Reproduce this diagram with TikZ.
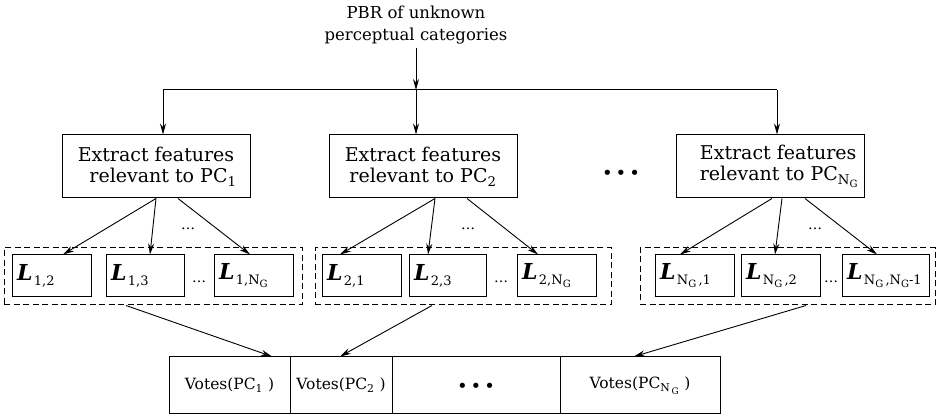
\documentclass[tikz,border=0pt]{standalone}
\usepackage{fontspec}
\setmainfont{DejaVu Serif}
\usetikzlibrary{arrows.meta,calc}
\newcommand{\Lmain}{{\fontsize{22}{22}\selectfont\bfseries\itshape L}\kern1.5pt}
\newcommand{\Ssub}[1]{\raisebox{-5pt}{\fontsize{13}{13}\selectfont #1}}
\newcommand{\NGsub}{N\raisebox{-3pt}{\fontsize{10}{10}\selectfont G}}
\begin{document}
\begin{tikzpicture}[x=1pt,y=-1pt,
  fbox/.style={draw, line width=1pt, inner sep=0pt, align=center,
    minimum width=188pt, minimum height=63pt, font=\fontsize{19}{21}\selectfont},
  lbox/.style={draw, line width=1pt, inner xsep=5pt, inner ysep=0pt,
    minimum height=42pt, align=left},
  grp/.style={draw, line width=1pt, dash pattern=on 6pt off 3.5pt, inner sep=0pt},
  vbox/.style={draw, line width=1pt, inner sep=0pt, minimum height=57pt,
    font=\fontsize{15.5}{18}\selectfont},
  arr/.style={-{Stealth[length=11pt,width=6pt]}, line width=0.9pt},
  sdots/.style={font=\fontsize{14}{14}\selectfont},
  bdots/.style={font=\fontsize{18}{18}\selectfont}
]
\useasboundingbox (0,0) rectangle (948,419);

% top text
\node[align=center, font=\fontsize{16.5}{22}\selectfont] (top) at (416,25) {PBR of unknown\\perceptual categories};

% extract boxes
\node[fbox] (b1) at (156,166.5) {Extract features\\\hspace*{14pt}relevant to PC\textsubscript{1}};
\node[fbox] (b2) at (423,166.5) {Extract features\\relevant to PC\textsubscript{2}};
\node[fbox, align=left] (b3) at (770,166.5) {\hspace*{18pt}Extract features\\\hspace*{18pt}relevant to PC\textsubscript{\NGsub}};

% junction
\coordinate (jc) at (416,90);
\coordinate (j1) at (163,90);
\coordinate (j3) at (777,90);
\draw[arr] (top.south) -- (jc);
\draw[line width=1pt] (j1) -- (j3);
\draw[arr] (j1) -- (j1 |- b1.north);
\draw[arr] (jc) -- (jc |- b2.north);
\draw[arr] (j3) -- (j3 |- b3.north);

\node[bdots] (d1) at (621,175) {•\,•\,•};

% L boxes group 1
\node[lbox, text width=69pt] (l12) at (51.5,276) {\Lmain\Ssub{1,2}};
\node[lbox, text width=68pt] (l13) at (145,276) {\Lmain\Ssub{1,3}};
\node[lbox, text width=69pt] (l1n) at (253.5,276) {\Lmain\Ssub{1,\NGsub}};
% group 2
\node[lbox, text width=69pt] (l21) at (361.5,276) {\Lmain\Ssub{2,1}};
\node[lbox, text width=67pt] (l23) at (447.5,276) {\Lmain\Ssub{2,3}};
\node[lbox, text width=69pt] (l2n) at (556.5,276) {\Lmain\Ssub{2,\NGsub}};
% group 3
\node[lbox, text width=69pt] (ln1) at (694.5,276) {\Lmain\Ssub{\NGsub\,,1}};
\node[lbox, text width=69pt] (ln2) at (780.5,276) {\Lmain\Ssub{\NGsub\,,2}};
\node[lbox, text width=77pt] (lnn) at (885.5,276) {\Lmain\Ssub{\NGsub\,,\NGsub-1}};

% row dots
\node[sdots] (r1) at (199,282) {\dots};
\node[sdots] (r2) at (501,282) {\dots};
\node[sdots] (r3) at (831,282) {\dots};

% dashed groups
\node[grp, minimum width=298pt, minimum height=57pt] (g1) at (153,276.5) {};
\node[grp, minimum width=296pt, minimum height=57pt] (g2) at (463,276.5) {};
\node[grp, minimum width=295pt, minimum height=57pt] (g3) at (787.5,276.5) {};

% arrows to L boxes
\draw[arr] (b1.south) -- ([xshift=11.5pt]l12.north);
\draw[arr] (b1.south) -- ([xshift=5pt]l13.north);
\draw[arr] ([xshift=22pt]b1.south) -- ([xshift=-3.5pt]l1n.north);
\draw[arr] ([xshift=12pt]b2.south) -- ([xshift=-21.5pt]l21.north);
\draw[arr] ([xshift=12pt]b2.south) -- ([xshift=-19.5pt]l23.north);
\draw[arr] ([xshift=44pt]b2.south) -- ([xshift=-18.5pt]l2n.north);
\draw[arr] ([xshift=2pt]b3.south) -- ([xshift=-14.5pt]ln1.north);
\draw[arr] ([xshift=12pt]b3.south) -- ([xshift=-5.5pt]ln2.north);
\draw[arr] ([xshift=35pt]b3.south) -- ([xshift=-8.5pt]lnn.north);

\node[sdots] (a1) at (188,229) {\dots};
\node[sdots] (a2) at (468,229) {\dots};
\node[sdots] (a3) at (815,229) {\dots};

% votes
\node[vbox, minimum width=121pt] (v1) at (229.5,385.5) {Votes(PC\textsubscript{1} )};
\node[vbox, minimum width=102pt] (v2) at (341,385.5) {Votes(PC\textsubscript{2} )};
\node[vbox, minimum width=168pt] (v3) at (476,385.5) {};
\node[bdots] (d2) at (476,388) {•\,•\,•};
\node[vbox, minimum width=160pt] (v4) at (640,385.5) {Votes(PC\textsubscript{N\,\raisebox{-3pt}{\fontsize{9}{9}\selectfont G}} )};

\draw[arr] ([xshift=-27pt]g1.south) -- ([xshift=42.5pt]v1.north);
\draw[arr] ([xshift=-31pt]g2.south) -- ([xshift=-1pt]v2.north);
\draw[arr] ([xshift=18.5pt]g3.south) -- ([xshift=-6pt]v4.north);
\end{tikzpicture}
\end{document}
